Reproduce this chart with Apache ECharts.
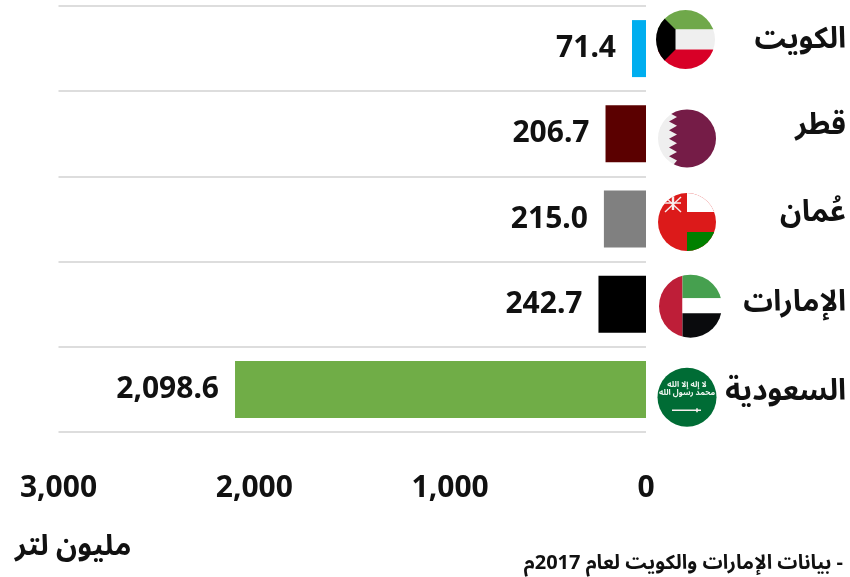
<!DOCTYPE html>
<html><head><meta charset="utf-8">
<style>html,body{margin:0;padding:0;background:#fff}#c{width:850px;height:577px}</style>
<script src="https://cdn.jsdelivr.net/npm/echarts@6/dist/echarts.min.js"></script>
</head><body><div id="c"></div>
<script>
const countries = ['الكويت','قطر','عُمان','الإمارات','السعودية'];
const values = [71.4,206.7,215.0,242.7,2098.6];
const barColors = ['#00aeef','#5b0000','#808080','#000000','#70ad47'];
const unitLabel = 'مليون لتر';
const footnote = '\u200F- بيانات الإمارات والكويت لعام 2017م';
const flagPlacement = [[39.5,-9,29.5],[41,4.6,29],[41,3,29],[44.5,2,31.5],[41,7.8,29.5]];
const labelShift = [-5,-4,-2,2,6];
const latin = '"Noto Sans","Open Sans",sans-serif';
const arabic = '"Noto Sans Arabic","Noto Naskh Arabic","DejaVu Sans",sans-serif';

const rect=(x,y,w,h,c)=>({type:'rect',shape:{x,y,width:w,height:h},style:{fill:c}});
const poly=(p,c)=>({type:'polygon',shape:{points:p},style:{fill:c}});
const ln=(a,b,c,d,w)=>({type:'line',shape:{x1:a,y1:b,x2:c,y2:d},style:{stroke:'#f7eeee',lineWidth:w}});
function qatarEdge(){
  const pts=[[40,-40],[-11,-40]];
  for(let i=0;i<7;i++){const y=-30+i*8.7;pts.push([-18,y-4.35]);pts.push([-10,y]);}
  pts.push([-18,31.5],[-11,40],[40,40]);
  return pts;
}
const flags=[
 r=>[rect(-40,-40,80,30,'#6fa84a'),rect(-40,-10,80,20,'#efefef'),rect(-40,10,80,30,'#d80027'),
     poly([[-40,-40],[-10,-10],[-10,10],[-40,40]],'#000')],
 r=>[rect(-40,-40,80,80,'#efefef'),poly(qatarEdge(),'#751c47')],
 r=>[rect(-40,-40,80,80,'#dc1a1a'),rect(0,-40,40,30,'#ffffff'),rect(0,10,40,30,'#008000'),
     ln(-22,-25,-6,-10,1.4),ln(-6,-25,-22,-10,1.4),ln(-14,-27,-14,-12,2.4),ln(-23,-19,-6,-19,1.4)],
 r=>[rect(-40,-40,32,80,'#be1e38'),rect(-8,-40,48,32,'#46a04f'),rect(-8,-8,48,15,'#ffffff'),rect(-8,7,48,33,'#0a0b0d')],
 r=>[rect(-40,-40,80,80,'#006c35'),
     {type:'text',style:{x:0,y:-7,text:'لا إله إلا الله\nمحمد رسول الله',fill:'#eef6f0',font:'bold 8px '+arabic,lineHeight:8,align:'center',verticalAlign:'middle'}},
     ln(-15,13,14,13,1.6),ln(10,11,10,15,1.6)]
];
const labelRich={};
labelShift.forEach((s,i)=>{labelRich['r'+i]={color:'#111',fontFamily:arabic,fontWeight:'bold',fontSize:29.5,
  padding:s<0?[0,0,-2*s,0]:[2*s,0,0,0]};});

const chart=echarts.init(document.getElementById('c'),null,{renderer:'canvas'});
chart.setOption({
  animation:false,
  backgroundColor:'#fff',
  grid:{left:58.5,right:204,top:6,bottom:145,containLabel:false,outerBoundsMode:'none'},
  xAxis:{type:'value',inverse:true,min:0,max:3000,interval:1000,
    axisLine:{show:false},axisTick:{show:false},splitLine:{show:false},
    axisLabel:{margin:41,color:'#111',fontFamily:latin,fontWeight:'bold',fontSize:30,
      showMinLabel:true,showMaxLabel:true,hideOverlap:false}},
  yAxis:{type:'category',inverse:true,position:'right',data:countries,
    axisLine:{show:false},axisTick:{show:false},
    splitLine:{show:true,showMinLine:true,showMaxLine:true,lineStyle:{color:'#dddddd',width:2}},
    axisLabel:{margin:200,align:'right',color:'#111',fontFamily:arabic,fontWeight:'bold',fontSize:29.5,
      formatter:(v,i)=>`{r${i}|${v}}`,rich:labelRich}},
  series:[
   {type:'bar',barWidth:57,silent:true,
    data:values.map((v,i)=>({value:v,itemStyle:{color:barColors[i]}})),
    label:{show:true,position:'left',distance:16,color:'#111',fontFamily:latin,fontWeight:'bold',fontSize:30,
      formatter:p=>p.value.toLocaleString('en-US',{minimumFractionDigits:1,maximumFractionDigits:1})}},
   {type:'custom',silent:true,data:countries.map((c,i)=>[0,i]),encode:{x:0,y:1},
    renderItem:(params,api)=>{
      const i=api.value(1),c=api.coord([0,i]),[dx,dy,r]=flagPlacement[i];
      return {type:'group',x:c[0]+dx,y:c[1]+dy,
        clipPath:{type:'circle',shape:{cx:0,cy:0,r}},
        children:flags[i](r)};
    }}
  ],
  graphic:[
   {type:'text',left:15,top:536,style:{text:unitLabel,font:'bold 29px '+arabic,fill:'#111'}},
   {type:'text',right:7,top:556,style:{text:footnote,font:'bold 20px '+arabic,fill:'#111'}}
  ]
});
</script></body></html>
